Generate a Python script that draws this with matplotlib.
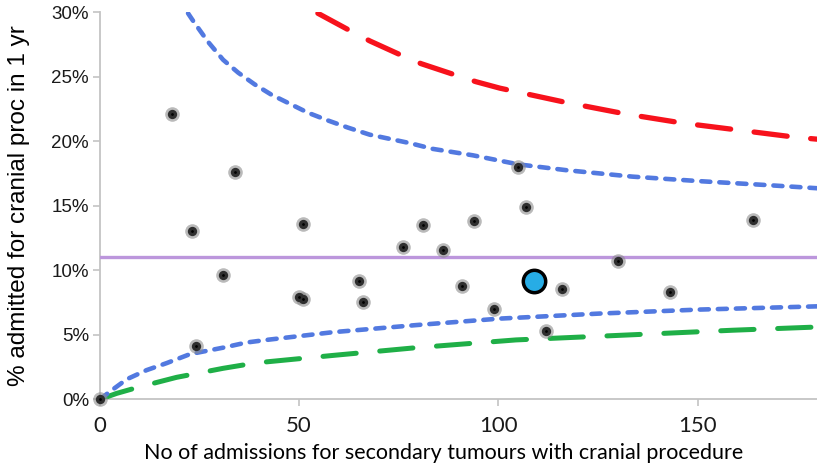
import matplotlib
matplotlib.use('Agg')
import matplotlib.pyplot as plt
from matplotlib.ticker import FuncFormatter

# admissions and % re-admitted for cranial procedure, per hospital
hosp_n = [0, 18, 23, 24, 31, 34, 50, 51, 51, 65, 66, 76, 81, 86, 91, 94, 99,
          105, 107, 112, 116, 130, 143, 164]
hosp_pct = [0, 22.1, 13.0, 4.1, 9.6, 17.6, 7.9, 13.6, 7.75, 9.2, 7.5, 11.8, 13.5,
            11.6, 8.75, 13.8, 7.0, 18.0, 14.9, 5.3, 8.55, 10.7, 8.3, 13.9]

# highlighted hospital
focus_n = [109]
focus_pct = [9.16]

mean_pct = 11.0

# control limits
upper95_n = [22.1, 23.4, 27.1, 30.9, 34.7, 38.8, 43.0, 47.6, 52.2, 57.2, 62.2,
             67.7, 77.7, 83.5, 93.6, 105, 117, 133.6, 150.4, 167.1, 180]
upper95_pct = [29.9, 29.3, 27.7, 26.3, 25.3, 24.4, 23.6, 22.9, 22.2, 21.6, 21.05,
               20.5, 19.85, 19.4, 18.9, 18.2, 17.75, 17.25, 16.9, 16.6, 16.35]

upper998_n = [54.7, 63.1, 67.8, 76.0, 80.6, 89.4, 94.4, 100.4, 116.9, 132,
              146.2, 160.4, 174.6, 180]
upper998_pct = [29.9, 28.5, 27.75, 26.6, 26.0, 25.1, 24.6, 24.1, 23.0, 22.1,
                21.4, 20.85, 20.3, 20.15]

lower95_n = [0, 2.5, 6.7, 11.7, 16.7, 22.6, 30.9, 36.8, 41.8, 58.5, 79.4,
             100.3, 125.3, 150.4, 180]
lower95_pct = [0, 0.6, 1.55, 2.26, 2.8, 3.5, 4.0, 4.4, 4.6, 5.2, 5.75,
               6.25, 6.64, 6.95, 7.2]

lower998_n = [0, 4.2, 10, 19.2, 23.4, 30.9, 36.8, 41.8, 58.5, 79.4, 104.4,
              133.7, 158.8, 180]
lower998_pct = [0, 0.46, 0.97, 1.7, 1.95, 2.4, 2.7, 2.9, 3.4, 4.0, 4.6,
                5.0, 5.35, 5.6]

x_ticks = [0, 50, 100, 150]
y_ticks = [0, 5, 10, 15, 20, 25, 30]

plt.rcParams['font.family'] = ['Liberation Sans', 'DejaVu Sans']
plt.rcParams['lines.scale_dashes'] = False

fig = plt.figure(figsize=(8.17, 4.69), dpi=100)
ax = fig.add_axes([0.1224, 0.1486, 0.8776, 0.8258])

ax.plot(upper998_n, upper998_pct, color='#F7121C', lw=3.8,
        linestyle=(0, (24, 17)), dash_capstyle='round', zorder=2)
ax.plot(lower998_n, lower998_pct, color='#1FAF47', lw=3.6,
        linestyle=(0, (24, 17)), dash_capstyle='round', zorder=2)
ax.plot(upper95_n, upper95_pct, color='#5279E0', lw=3.3,
        linestyle=(0, (6.5, 6.5)), dash_capstyle='round', zorder=2)
ax.plot(lower95_n, lower95_pct, color='#5279E0', lw=3.3,
        linestyle=(0, (6.5, 6.5)), dash_capstyle='round', zorder=2)

ax.axhline(mean_pct, color='#BC96DC', lw=2.4, zorder=2)

# soft grey halo under each dot, dark core on top
ax.scatter(hosp_n, hosp_pct, s=110, color='#8c8c8c', alpha=0.6, lw=0,
           zorder=3, clip_on=False)
ax.scatter(hosp_n, hosp_pct, s=45, color='#2e2e2e', lw=0, zorder=4, clip_on=False)
ax.scatter(hosp_n, hosp_pct, s=4, color='black', lw=0, zorder=5, clip_on=False)

ax.scatter(focus_n, focus_pct, s=260, color='#27ACE5', edgecolor='black',
           lw=2.5, zorder=6)

ax.set_xlim(0, 180)
ax.set_ylim(0, 30)
ax.set_xticks(x_ticks)
ax.set_yticks(y_ticks)
ax.yaxis.set_major_formatter(FuncFormatter(lambda v, p: f'{v:.0f}%'))

for side in ['top', 'right']:
    ax.spines[side].set_visible(False)
for side in ['left', 'bottom']:
    ax.spines[side].set_color('#C4C4C4')
    ax.spines[side].set_linewidth(1.3)
    ax.spines[side].set_zorder(1)

ax.tick_params(axis='both', colors='#C4C4C4', width=1.2, length=5,
               labelcolor='#1a1a1a')
ax.tick_params(axis='y', labelsize=13.5, pad=3)
ax.tick_params(axis='x', labelsize=16, pad=7)
for lab in ax.get_xticklabels():
    lab.set_family(['Lato', 'DejaVu Sans'])

ax.set_xlabel('No of admissions for secondary tumours with cranial procedure',
              fontsize=15.5, family=['Lato', 'DejaVu Sans'])
ax.xaxis.set_label_coords(0.479, -0.112)
ax.set_ylabel('% admitted for cranial proc in 1 yr', fontsize=17.5, labelpad=15)

fig.savefig('out.png', dpi=100)
